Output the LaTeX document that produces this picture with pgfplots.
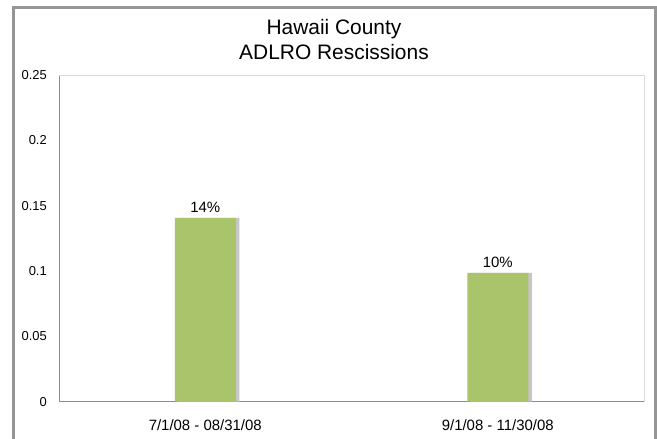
\documentclass[border=0pt]{standalone}
\usepackage{pgfplots}
\pgfplotsset{compat=1.18}
\usepackage{fontspec}
\setmainfont{Liberation Sans}
\definecolor{bargreen}{RGB}{169,196,107}
\definecolor{framegray}{RGB}{150,150,150}
\definecolor{axgray}{RGB}{140,140,140}
\definecolor{lightax}{RGB}{217,217,217}
\begin{document}
\begin{tikzpicture}[x=1bp,y=1bp]
\useasboundingbox (0,0) rectangle (657,439);
\clip (0,0) rectangle (657,439);
\fill[white] (0,0) rectangle (657,439);
\draw[framegray, line width=3bp] (13.5,-20) -- (13.5,431.5) -- (655,431.5) -- (655,-20);
\node[align=center, font=\fontsize{21}{25}\selectfont, text=black] at (334,399.5) {Hawaii County\\ADLRO Rescissions};
\begin{axis}[
  at={(59bp,37.3bp)}, anchor=south west,
  width=585bp, height=326.7bp, scale only axis,
  xmin=-0.5, xmax=1.5, ymin=0, ymax=0.25,
  xtick={0,1}, xticklabels={7/1/08 - 08/31/08, 9/1/08 - 11/30/08},
  ytick={0,0.05,0.1,0.15,0.2,0.25},
  yticklabels={0,0.05,0.1,0.15,0.2,0.25},
  axis x line*=bottom, axis y line*=left,
  axis line style={axgray, line width=0.8bp, -},
  tick style={draw=none},
  major tick length=0pt,
  /pgf/number format/assume math mode=true,
  yticklabel style={font=\fontsize{13}{15}\selectfont, anchor=east, inner sep=0pt, xshift=-12bp},
  xticklabel style={font=\fontsize{15}{17}\selectfont, anchor=north, inner sep=0pt, yshift=-18bp},
  ybar, bar width=61bp,
  clip=false,
]
\draw[lightax, line width=0.8bp] (rel axis cs:0,1) -- (rel axis cs:1,1) -- (rel axis cs:1,0);
\addplot[fill=gray!45, draw=none, bar shift=3.5bp] coordinates {(0,0.1406) (1,0.0985)};
\addplot[fill=bargreen, draw=none, bar shift=0bp,
  point meta=explicit symbolic,
  nodes near coords,
  every node near coord/.append style={font=\fontsize{15}{17}\selectfont, text=black, inner sep=0pt, anchor=south, yshift=5bp}]
  coordinates {(0,0.1406) [14\%] (1,0.0985) [10\%]};
\end{axis}
\end{tikzpicture}
\end{document}
